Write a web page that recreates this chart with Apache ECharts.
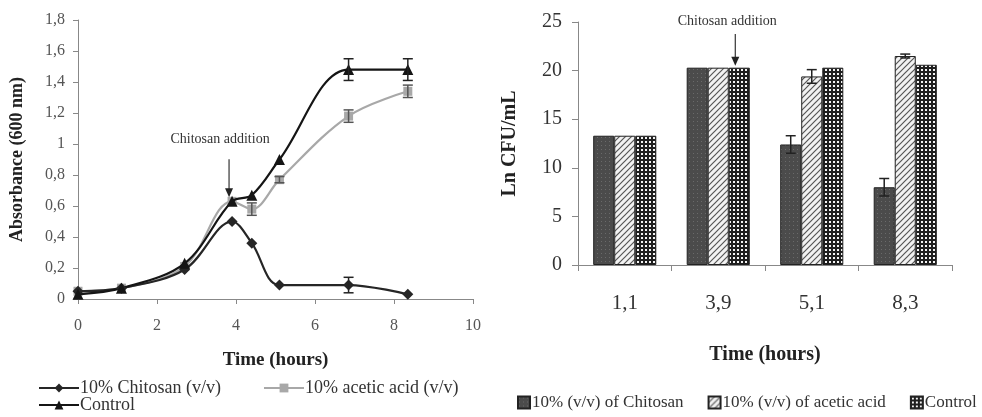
<!DOCTYPE html>
<html>
<head>
<meta charset="utf-8">
<script src="https://cdn.jsdelivr.net/npm/echarts@6/dist/echarts.min.js"></script>
<style>html,body{margin:0;padding:0;background:#fff}#c{width:982px;height:417px}</style>
</head>
<body>
<div id="c"></div>
<script>
// ---- Left panel: absorbance growth curves ----
const timeH = [0, 1.1, 2.7, 3.9, 4.4, 5.1, 6.85, 8.35];
const chitosanOD = [0.05, 0.07, 0.19, 0.50, 0.36, 0.09, 0.09, 0.03];
const aceticOD   = [0.05, 0.07, 0.21, 0.63, 0.58, 0.77, 1.18, 1.34];
const controlOD  = [0.03, 0.07, 0.23, 0.63, 0.67, 0.90, 1.48, 1.48];
const chitosanODErr = [0, 0, 0, 0, 0, 0, 0.05, 0];
const aceticODErr   = [0, 0, 0, 0, 0.04, 0.02, 0.04, 0.04];
const controlODErr  = [0, 0, 0, 0, 0, 0, 0.07, 0.07];
const lineNames = ['10% Chitosan (v/v)', '10% acetic acid (v/v)', 'Control'];

// ---- Right panel: Ln CFU/mL bars ----
const barCategories = ['1,1', '3,9', '5,1', '8,3'];
const chitosanCFU = [13.3, 20.3, 12.4, 8.0];
const aceticCFU   = [13.3, 20.3, 19.4, 21.5];
const controlCFU  = [13.3, 20.3, 20.3, 20.6];
const chitosanCFUErr = [0, 0, 0.9, 0.9];
const aceticCFUErr   = [0, 0, 0.7, 0.2];
const controlCFUErr  = [0, 0, 0, 0];
const barNames = ['10% (v/v) of Chitosan', '10% (v/v) of acetic acid', 'Control '];

const additionTime = 3.9;

const SERIF = '"Liberation Serif", "Times New Roman", serif';

function makePattern(kind) {
  const c = document.createElement('canvas');
  const s = kind === 'diag' ? 6 : 4;
  c.width = s; c.height = s;
  const g = c.getContext('2d');
  if (kind === 'dots') {
    g.fillStyle = '#4b4b4b'; g.fillRect(0, 0, s, s);
    g.fillStyle = '#6a6a6a'; g.fillRect(1, 1, 1, 1);
  } else if (kind === 'diag') {
    g.fillStyle = '#f2f2f2'; g.fillRect(0, 0, s, s);
    g.strokeStyle = '#555'; g.lineWidth = 1.2;
    g.beginPath();
    g.moveTo(0, s); g.lineTo(s, 0);
    g.moveTo(-s, s); g.lineTo(s, -s);
    g.moveTo(0, 2 * s); g.lineTo(2 * s, 0);
    g.stroke();
  } else {
    g.fillStyle = '#1e1e1e'; g.fillRect(0, 0, s, s);
    g.fillStyle = '#f4f4f4'; g.fillRect(1, 1, 2, 2);
  }
  return { image: c, repeat: 'repeat' };
}
const patChitosan = makePattern('dots');
const patAcetic = makePattern('diag');
const patControl = makePattern('grid');

function errData(xs, vals, errs) {
  const out = [];
  xs.forEach((x, i) => { if (errs[i] > 0) out.push([x, vals[i] - errs[i], vals[i] + errs[i]]); });
  return out;
}
function barErrData(vals, errs, s) {
  const out = [];
  vals.forEach((v, i) => { if (errs[i] > 0) out.push([i, v - errs[i], v + errs[i], s]); });
  return out;
}

function lineErrRender(color) {
  return function (params, api) {
    const x = api.value(0);
    const a = api.coord([x, api.value(2)]);
    const b = api.coord([x, api.value(1)]);
    const w = 5;
    const st = { stroke: color, lineWidth: 1.5 };
    return { type: 'group', children: [
      { type: 'line', shape: { x1: a[0], y1: a[1], x2: b[0], y2: b[1] }, style: st },
      { type: 'line', shape: { x1: a[0] - w, y1: a[1], x2: a[0] + w, y2: a[1] }, style: st },
      { type: 'line', shape: { x1: b[0] - w, y1: b[1], x2: b[0] + w, y2: b[1] }, style: st }
    ]};
  };
}
function barErrRender(params, api) {
  const ci = api.value(0), s = api.value(3);
  const bw = api.size([1, 0])[0] * 0.225;
  const a = api.coord([ci, api.value(2)]);
  const b = api.coord([ci, api.value(1)]);
  const x = a[0] + (s - 1) * bw;
  const w = 5;
  const st = { stroke: '#222', lineWidth: 1.5 };
  return { type: 'group', children: [
    { type: 'line', shape: { x1: x, y1: a[1], x2: x, y2: b[1] }, style: st },
    { type: 'line', shape: { x1: x - w, y1: a[1], x2: x + w, y2: a[1] }, style: st },
    { type: 'line', shape: { x1: x - w, y1: b[1], x2: x + w, y2: b[1] }, style: st }
  ]};
}

const chart = echarts.init(document.getElementById('c'));
const axisLine = { show: true, lineStyle: { color: '#888', width: 1 } };
const axisTick = { show: true, inside: false, length: 5, lineStyle: { color: '#888' } };

const lineColors = ['#262626', '#a8a8a8', '#151515'];
const lineSymbols = ['diamond', 'rect', 'triangle'];
const lineVals = [chitosanOD, aceticOD, controlOD];
const lineErrs = [chitosanODErr, aceticODErr, controlODErr];

const series = [];
lineVals.forEach((vals, k) => {
  series.push({
    name: lineNames[k], type: 'line', xAxisIndex: 0, yAxisIndex: 0,
    data: timeH.map((t, i) => [t, vals[i]]),
    smooth: 0.35, symbol: lineSymbols[k], symbolSize: k === 1 ? 9 : 11,
    lineStyle: { color: lineColors[k], width: 2.2 },
    itemStyle: { color: lineColors[k] }, z: k === 1 ? 2 : 3
  });
});
lineVals.forEach((vals, k) => {
  series.push({
    type: 'custom', xAxisIndex: 0, yAxisIndex: 0, z: 4,
    renderItem: lineErrRender(lineColors[k] === '#a8a8a8' ? '#555' : '#222'),
    data: errData(timeH, vals, lineErrs[k])
  });
});
const barVals = [chitosanCFU, aceticCFU, controlCFU];
const barErrs = [chitosanCFUErr, aceticCFUErr, controlCFUErr];
const barPats = [patChitosan, patAcetic, patControl];
barVals.forEach((vals, k) => {
  series.push({
    name: barNames[k], type: 'bar', xAxisIndex: 1, yAxisIndex: 1,
    data: vals, barWidth: '22.5%', barGap: '0%',
    itemStyle: { color: barPats[k], borderColor: '#222', borderWidth: 1 }
  });
});
barVals.forEach((vals, k) => {
  series.push({
    type: 'custom', xAxisIndex: 1, yAxisIndex: 1, z: 5,
    renderItem: barErrRender, data: barErrData(vals, barErrs[k], k)
  });
});

const legendText = { fontFamily: SERIF, fontSize: 18, color: '#333', padding: [0, 0, 0, -4] };
const legendTextR = { fontFamily: SERIF, fontSize: 17, color: '#333', padding: [0, 0, 0, -3] };

chart.setOption({
  animation: false,
  backgroundColor: '#fff',
  grid: [
    { left: 78, top: 20, width: 395, height: 279 },
    { left: 578, top: 22, width: 374, height: 243 }
  ],
  xAxis: [
    { type: 'value', gridIndex: 0, min: 0, max: 10, interval: 2, splitLine: { show: false },
      axisLine, axisTick,
      axisLabel: { color: '#555', fontFamily: SERIF, fontSize: 16, margin: 19 },
      name: 'Time (hours)', nameLocation: 'middle', nameGap: 52,
      nameTextStyle: { fontFamily: SERIF, fontWeight: 'bold', fontSize: 19, color: '#222' } },
    { type: 'category', gridIndex: 1, data: barCategories,
      axisLine, axisTick: { show: true, length: 6, lineStyle: { color: '#888' } },
      axisLabel: { color: '#333', fontFamily: SERIF, fontSize: 21, margin: 28 },
      name: 'Time (hours)', nameLocation: 'middle', nameGap: 80,
      nameTextStyle: { fontFamily: SERIF, fontWeight: 'bold', fontSize: 20, color: '#222' } }
  ],
  yAxis: [
    { type: 'value', gridIndex: 0, min: 0, max: 1.8, interval: 0.2, splitLine: { show: false },
      axisLine, axisTick,
      axisLabel: { color: '#555', fontFamily: SERIF, fontSize: 16, margin: 13,
        formatter: v => String(Math.round(v * 10) / 10).replace('.', ',') },
      name: 'Absorbance (600 nm)', nameLocation: 'middle', nameGap: 52, nameRotate: 90,
      nameTextStyle: { fontFamily: SERIF, fontWeight: 'bold', fontSize: 18, color: '#222' } },
    { type: 'value', gridIndex: 1, min: 0, max: 25, interval: 5, splitLine: { show: false },
      axisLine, axisTick: { show: true, length: 6, lineStyle: { color: '#888' } },
      axisLabel: { color: '#333', fontFamily: SERIF, fontSize: 20, margin: 16 },
      name: 'Ln CFU/mL', nameLocation: 'middle', nameGap: 58, nameRotate: 90,
      nameTextStyle: { fontFamily: SERIF, fontWeight: 'bold', fontSize: 20, color: '#222' } }
  ],
  legend: [
    { data: lineNames.slice(0, 2), left: 33, top: 374, itemWidth: 40, itemHeight: 11, itemGap: 42,
      textStyle: legendText },
    { data: lineNames.slice(2), left: 33, top: 391, itemWidth: 40, itemHeight: 11,
      textStyle: legendText },
    { data: barNames, left: 512, top: 389, width: 470, itemWidth: 12, itemHeight: 12, itemGap: 24, icon: 'rect',
      textStyle: legendTextR }
  ],
  series
});

// Annotations: "Chitosan addition" arrows anchored to data coordinates
function arrowGroup(x, yTop, yTip, label, labelX, labelY) {
  return [
    { type: 'text', x: labelX, y: labelY, style: { text: label, align: 'center', verticalAlign: 'middle',
      font: '14px ' + SERIF, fill: '#333' } },
    { type: 'line', shape: { x1: x, y1: yTop, x2: x, y2: yTip - 6 }, style: { stroke: '#333', lineWidth: 1.2 } },
    { type: 'polygon', shape: { points: [[x - 4, yTip - 9], [x + 4, yTip - 9], [x, yTip]] }, style: { fill: '#222' } }
  ];
}
const pL = chart.convertToPixel({ xAxisIndex: 0, yAxisIndex: 0 }, [additionTime, controlOD[3]]);
const pR = chart.convertToPixel({ xAxisIndex: 1, yAxisIndex: 1 }, [1, controlCFU[1]]);
const c0 = chart.convertToPixel({ xAxisIndex: 1, yAxisIndex: 1 }, [0, 0]);
const c1 = chart.convertToPixel({ xAxisIndex: 1, yAxisIndex: 1 }, [1, 0]);
const xR = pR[0] + (c1[0] - c0[0]) * 0.225;
const gl = [].concat(
  arrowGroup(pL[0] - 3, pL[1] - 42, pL[1] - 4, 'Chitosan addition', pL[0] - 12, pL[1] - 62),
  arrowGroup(xR - 4, 34, pR[1] - 2, 'Chitosan addition', xR - 12, 21)
);
chart.setOption({ graphic: gl });
</script>
</body>
</html>
